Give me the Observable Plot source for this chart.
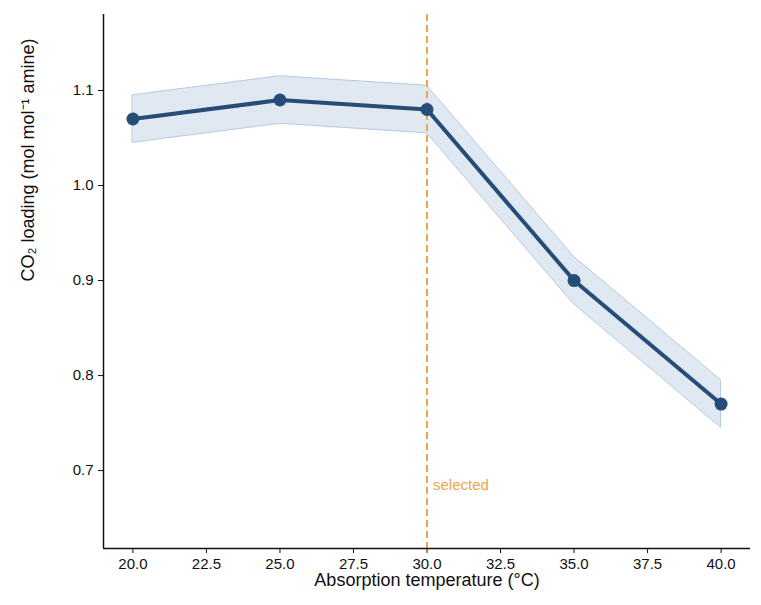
<!DOCTYPE html>
<html><head>
<script src="https://cdn.jsdelivr.net/npm/d3@7"></script>
<script src="https://cdn.jsdelivr.net/npm/@observablehq/plot@0.6"></script>
<style>body{margin:0;background:#fff}
svg g[aria-label$="tick label"]{font-size:15px !important}
svg g[aria-label$="tick label"] text{font-size:15px}</style>
</head><body><div id="c"></div>
<script>
const temps = [20, 25, 30, 35, 40];
const loading = [1.07, 1.09, 1.08, 0.90, 0.77];
const errs = [0.025, 0.025, 0.025, 0.025, 0.025];
const xTicks = [20, 22.5, 25, 27.5, 30, 32.5, 35, 37.5, 40];
const yTicks = [0.7, 0.8, 0.9, 1.0, 1.1];
const selectedT = 30;
const data = temps.map((t, i) => ({t, y: loading[i], lo: loading[i] - errs[i], hi: loading[i] + errs[i]}));
const xd = [19.0, 41.0], yd = [0.618, 1.18];
const plot = Plot.plot({
  width: 761, height: 605,
  marginLeft: 103, marginTop: 14, marginRight: 11, marginBottom: 57,
  style: {fontFamily: "Arial, 'Liberation Sans', sans-serif", fontSize: "15px", color: "#111"},
  x: {domain: xd, ticks: xTicks, tickFormat: d3.format(".1f"), label: null},
  y: {domain: yd, ticks: yTicks, tickFormat: d3.format(".1f"), label: null},
  marks: [
    Plot.areaY(data, {x: "t", y1: "lo", y2: "hi", fill: "#c6d5e8", fillOpacity: 0.55, stroke: "#b5c9df", strokeWidth: 1}),
    Plot.ruleX([selectedT], {stroke: "#eea54f", strokeWidth: 2, strokeDasharray: "7,4"}),
    Plot.text([{x: selectedT, y: 0.685}], {x: "x", y: "y", text: () => "selected", fill: "#eea54f", textAnchor: "start", dx: 6, fontSize: 15}),
    Plot.line(data, {x: "t", y: "y", stroke: "#264d78", strokeWidth: 4}),
    Plot.dot(data, {x: "t", y: "y", fill: "#264d78", r: 6.5}),
    Plot.ruleX([xd[0]], {stroke: "#111", strokeWidth: 1.5}),
    Plot.ruleY([yd[0]], {stroke: "#111", strokeWidth: 1.5}),
    Plot.axisX({ticks: xTicks, tickFormat: d3.format(".1f"), tickSize: 5, tickPadding: 5, fontSize: 15, label: null}),
    Plot.axisY({ticks: yTicks, tickFormat: d3.format(".1f"), tickSize: 5, tickPadding: 5, fontSize: 15, label: null}),
    Plot.text(["Absorption temperature (°C)"], {frameAnchor: "bottom", dy: 37, fontSize: 18, fill: "#111"}),
    Plot.text(["CO₂ loading (mol mol⁻¹ amine)"], {frameAnchor: "left", dx: -75, rotate: -90, fontSize: 18, fill: "#111"})
  ]
});
document.getElementById("c").append(plot);
</script></body></html>
